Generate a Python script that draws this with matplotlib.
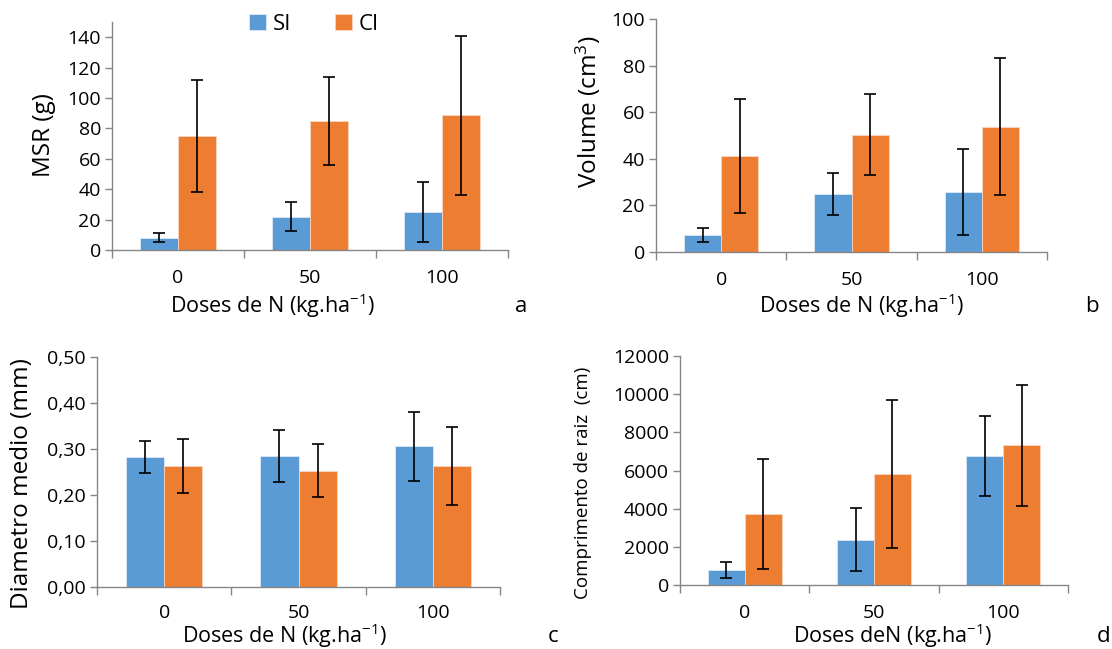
import numpy as np
import matplotlib.pyplot as plt
from matplotlib.ticker import FuncFormatter, FixedLocator

plt.rcParams['font.family'] = ['Open Sans', 'DejaVu Sans']
plt.rcParams['mathtext.default'] = 'regular'

doses = ['0', '50', '100']

# a - MSR (g)
msr_si = [8, 22, 25]
msr_si_err = [3, 9.5, 19.5]
msr_ci = [75, 85, 88.5]
msr_ci_err = [37, 29, 52.5]

# b - Volume (cm3)
vol_si = [7.3, 25, 25.7]
vol_si_err = [3.1, 9, 18.3]
vol_ci = [41.2, 50.3, 53.8]
vol_ci_err = [24.6, 17.4, 29.5]

# c - Diametro medio (mm)
dia_si = [0.283, 0.285, 0.306]
dia_si_err = [0.035, 0.057, 0.075]
dia_ci = [0.263, 0.253, 0.263]
dia_ci_err = [0.059, 0.058, 0.084]

# d - Comprimento de raiz (cm)
comp_si = [800, 2380, 6750]
comp_si_err = [430, 1670, 2100]
comp_ci = [3720, 5800, 7320]
comp_ci_err = [2860, 3880, 3170]

blue = '#5B9BD5'
orange = '#ED7D31'
grey = '#868686'
W, H = 1112, 649


def panel(rect, si, si_err, ci, ci_err, ylim, step, fmt=None, xpad=14):
    ax = fig.add_axes(rect)
    x = np.arange(len(doses))
    w = 0.285
    ek = dict(ecolor='black', elinewidth=1.2, capsize=4.5, capthick=1.2)
    b1 = ax.bar(x - w / 2, si, w, yerr=si_err, color=blue, edgecolor='#dce9f5',
                linewidth=0.6, error_kw=ek, label='SI')
    b2 = ax.bar(x + w / 2, ci, w, yerr=ci_err, color=orange, edgecolor='#f8d5c0',
                linewidth=0.6, error_kw=ek, label='CI')
    ax.set_xlim(-0.5, len(doses) - 0.5)
    ax.set_ylim(*ylim)
    ax.set_yticks(np.arange(ylim[0], ylim[1] + step / 2, step))
    if fmt:
        ax.yaxis.set_major_formatter(FuncFormatter(fmt))
    ax.set_xticks(x)
    ax.set_xticklabels(doses)
    ax.xaxis.set_minor_locator(FixedLocator(np.arange(-0.5, len(doses), 1)))
    ax.tick_params(axis='x', which='major', length=0, pad=xpad, labelsize=14)
    ax.tick_params(axis='x', which='minor', length=6, color=grey, width=1)
    ax.tick_params(axis='y', length=5, color=grey, width=1, labelsize=14, pad=3)
    for s in ['top', 'right']:
        ax.spines[s].set_visible(False)
    for s in ['left', 'bottom']:
        ax.spines[s].set_color(grey)
        ax.spines[s].set_linewidth(1)
    return ax, b1, b2


fig = plt.figure(figsize=(W / 100, H / 100), dpi=100)


def frect(l, r, y0, yt):
    return [l / W, 1 - y0 / H, (r - l) / W, (y0 - yt) / H]


ax_a, h1, h2 = panel(frect(112, 508, 250, 22), msr_si, msr_si_err, msr_ci, msr_ci_err, (0, 150), 20)
ax_a.set_yticks(np.arange(0, 141, 20))
ax_b, _, _ = panel(frect(656, 1047, 252, 19), vol_si, vol_si_err, vol_ci, vol_ci_err, (0, 100), 20)
ax_c, _, _ = panel(frect(97, 500, 587, 357), dia_si, dia_si_err, dia_ci, dia_ci_err, (0, 0.5), 0.1,
                   fmt=lambda v, p: f'{v:.2f}'.replace('.', ','), xpad=12)
ax_d, _, _ = panel(frect(680, 1068, 585, 356), comp_si, comp_si_err, comp_ci, comp_ci_err, (0, 12000), 2000)

fig.legend([h1, h2], ['SI', 'CI'], loc='center', bbox_to_anchor=(314 / W, 1 - 24 / H),
           ncol=2, frameon=False, fontsize=16, handlelength=0.75, handleheight=0.75,
           columnspacing=2.0, handletextpad=0.3)

# y labels
fig.text(44 / W, 1 - 135 / H, 'MSR (g)', rotation=90, ha='center', va='center', fontsize=17.5)
fig.text(588 / W, 1 - 112 / H, 'Volume (cm$^{3}$)', rotation=90, ha='center', va='center', fontsize=17.5)
fig.text(22 / W, 1 - 484 / H, 'Diametro medio (mm)', rotation=90, ha='center', va='center', fontsize=17.5)
fig.text(583 / W, 1 - 483 / H, 'Comprimento de raiz  (cm)', rotation=90, ha='center', va='center', fontsize=13.5)

# x labels
xl = 'Doses de N (kg.ha$^{-1}$)'
fig.text(272 / W, 1 - 306 / H, xl, ha='center', va='center', fontsize=15.5)
fig.text(861 / W, 1 - 306 / H, xl, ha='center', va='center', fontsize=15.5)
fig.text(284 / W, 1 - 636 / H, xl, ha='center', va='center', fontsize=15.5)
fig.text(893 / W, 1 - 636 / H, 'Doses deN (kg.ha$^{-1}$)', ha='center', va='center', fontsize=15.5)

# panel letters
for lx, ly, t in [(521, 307, 'a'), (1092, 307, 'b'), (553, 637, 'c'), (1104, 637, 'd')]:
    fig.text(lx / W, 1 - ly / H, t, ha='center', va='center', fontsize=16)

fig.savefig('out.png', dpi=100)
